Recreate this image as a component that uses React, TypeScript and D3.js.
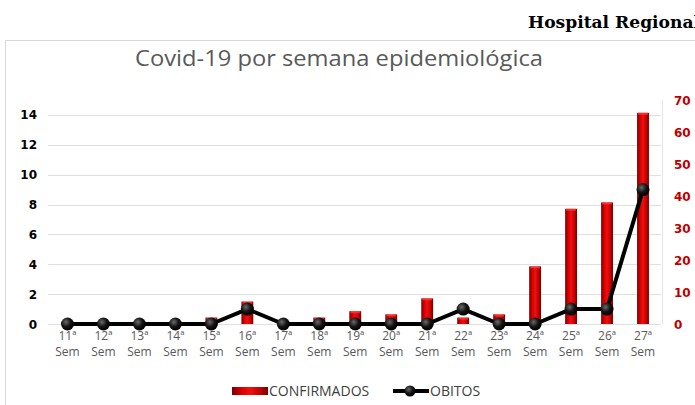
import * as d3 from "d3";

const weeks = ["11ª", "12ª", "13ª", "14ª", "15ª", "16ª", "17ª", "18ª", "19ª", "20ª", "21ª", "22ª", "23ª", "24ª", "25ª", "26ª", "27ª"];
const confirmados = [0, 0, 0, 0, 2, 7, 0, 2, 4, 3, 8, 2, 3, 18, 36, 38, 66];
const obitos = [0, 0, 0, 0, 0, 1, 0, 0, 0, 0, 0, 1, 0, 0, 1, 1, 9];
const leftTicks = [0, 2, 4, 6, 8, 10, 12, 14];
const rightTicks = [0, 10, 20, 30, 40, 50, 60, 70];

const W = 695;
const H = 405;
const plot = { left: 49.5, right: 661, top: 100, bottom: 324 };

export default function App() {
  const x = d3.scaleBand<string>().domain(weeks).range([plot.left, plot.right]);
  const yL = d3.scaleLinear().domain([0, 15]).range([plot.bottom, plot.top]);
  const yR = d3.scaleLinear().domain([0, 70]).range([plot.bottom, plot.top]);
  const cx = (w: string) => (x(w) ?? 0) + x.bandwidth() / 2;
  const barW = x.bandwidth() * 0.33;

  const line = d3
    .line<number>()
    .x((_, i) => cx(weeks[i]))
    .y((d) => yL(d));

  const labelFont = "'Open Sans', 'DejaVu Sans', sans-serif";

  return (
    <svg
      width={W}
      height={H}
      style={{ position: "absolute", left: 0, top: 0, background: "#fff" }}
    >
      <defs>
        <linearGradient id="barGrad" x1="0" x2="1" y1="0" y2="0">
          <stop offset="0%" stopColor="#7a0000" />
          <stop offset="25%" stopColor="#d40000" />
          <stop offset="50%" stopColor="#f01010" />
          <stop offset="80%" stopColor="#c00000" />
          <stop offset="100%" stopColor="#700000" />
        </linearGradient>
        <radialGradient id="dotGrad" cx="0.38" cy="0.35" r="0.65">
          <stop offset="0%" stopColor="#6a6a6a" />
          <stop offset="55%" stopColor="#151515" />
          <stop offset="100%" stopColor="#000" />
        </radialGradient>
      </defs>

      {/* header */}
      <text
        x={528}
        y={27.5}
        fontFamily="'DejaVu Serif', 'Liberation Serif', serif"
        fontWeight="bold"
        fontSize={16.5}
        textLength={172}
        lengthAdjust="spacingAndGlyphs"
        fill="#000"
      >
        Hospital Regional
      </text>

      {/* chart frame */}
      <rect x={5.5} y={40.5} width={W + 10} height={H} fill="#fff" stroke="#d9d9d9" />

      <text
        x={135}
        y={65.5}
        fontFamily={labelFont}
        fontSize={22}
        textLength={408}
        lengthAdjust="spacingAndGlyphs"
        fill="#595959"
      >
        Covid-19 por semana epidemiológica
      </text>

      {/* grid */}
      {leftTicks.map((t) => (
        <line
          key={"g" + t}
          x1={48}
          x2={plot.right}
          y1={Math.round(yL(t)) + 0.5}
          y2={Math.round(yL(t)) + 0.5}
          stroke="#e0e0e0"
          strokeWidth={1}
        />
      ))}
      <line x1={662.5} x2={662.5} y1={plot.top} y2={plot.bottom} stroke="#e6e6e6" />

      {/* left axis */}
      {leftTicks.map((t) => (
        <text
          key={"l" + t}
          x={37}
          y={yL(t) + 4.5}
          textAnchor="end"
          fontFamily="'DejaVu Sans', sans-serif"
          fontWeight="bold"
          fontSize={12}
          fill="#000"
        >
          {t}
        </text>
      ))}

      {/* right axis */}
      {rightTicks.map((t) => (
        <text
          key={"r" + t}
          x={674}
          y={yR(t) + 4.5}
          fontFamily="'DejaVu Sans', sans-serif"
          fontWeight="bold"
          fontSize={12}
          fill="#c00000"
        >
          {t}
        </text>
      ))}

      {/* bars */}
      {confirmados.map((v, i) =>
        v > 0 ? (
          <g key={"b" + i}>
            <rect
              x={cx(weeks[i]) - barW / 2}
              y={yR(v)}
              width={barW}
              height={plot.bottom - yR(v)}
              fill="url(#barGrad)"
            />
            <rect
              x={cx(weeks[i]) - barW / 2 + 1}
              y={yR(v)}
              width={barW - 2}
              height={2}
              fill="#ff4040"
              opacity={0.7}
            />
          </g>
        ) : null
      )}

      {/* obitos line */}
      <path d={line(obitos) ?? ""} fill="none" stroke="#000" strokeWidth={4} strokeLinejoin="round" />
      {obitos.map((v, i) => (
        <circle key={"d" + i} cx={cx(weeks[i])} cy={yL(v)} r={6.5} fill="url(#dotGrad)" />
      ))}

      {/* x labels */}
      {weeks.map((w) => (
        <g key={"x" + w}>
          <text
            x={cx(w)}
            y={340}
            textAnchor="middle"
            fontFamily={labelFont}
            fontSize={12}
            fill="#595959"
          >
            {w}
          </text>
          <text
            x={cx(w)}
            y={355.5}
            textAnchor="middle"
            fontFamily={labelFont}
            fontSize={12}
            fill="#595959"
          >
            Sem
          </text>
        </g>
      ))}

      {/* legend */}
      <rect x={232} y={387} width={36} height={8} fill="url(#barGrad)" />
      <text x={269} y={395.5} fontFamily={labelFont} fontSize={14} fill="#404040">
        CONFIRMADOS
      </text>
      <line x1={393} x2={429} y1={391} y2={391} stroke="#000" strokeWidth={4} />
      <circle cx={410} cy={391} r={5.5} fill="url(#dotGrad)" />
      <text x={430} y={395.5} fontFamily={labelFont} fontSize={14} fill="#404040">
        OBITOS
      </text>
    </svg>
  );
}
